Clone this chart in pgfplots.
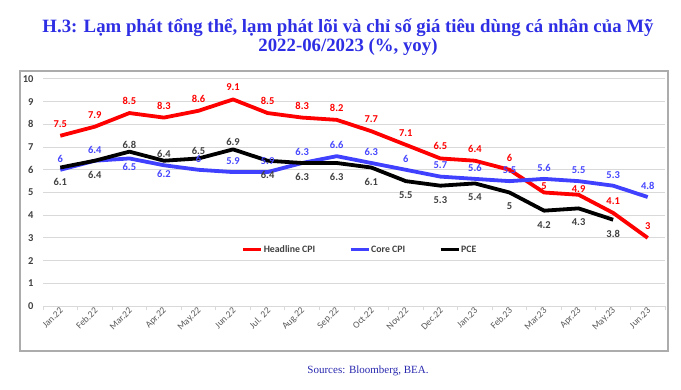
\documentclass[border=0pt]{standalone}
\usepackage{pgfplots}
\pgfplotsset{compat=1.18}
\usepackage{fontspec}
\setmainfont{Liberation Serif}
\newfontfamily\carlito{Carlito}
\definecolor{ttl}{RGB}{46,46,228}
\definecolor{src}{RGB}{40,40,175}
\definecolor{hred}{RGB}{255,0,0}
\definecolor{cblue}{RGB}{64,64,255}
\definecolor{cbluelab}{RGB}{70,70,255}
\definecolor{pgray}{RGB}{64,64,64}
\definecolor{tick}{RGB}{89,89,89}
\definecolor{gridc}{RGB}{217,217,217}
\begin{document}
\begin{tikzpicture}[x=1pt,y=1pt]
\path (0,0) rectangle (681,389);
\node[font=\bfseries\fontsize{18.8}{19.5}\selectfont, text=ttl, align=center] at (348,352)
  {H.3: Lạm phát tổng thể, lạm phát lõi và chỉ số giá tiêu dùng cá nhân của Mỹ\\2022-06/2023 (\%, yoy)};
\draw[gray!65, line width=1.3pt] (20,38) rectangle (668,318);
\node[font=\fontsize{11}{12}\selectfont, text=src] at (368,18) {Sources: Bloomberg, BEA.};
\begin{axis}[
  at={(43pt,83pt)}, anchor=south west,
  width=622pt, height=227pt, scale only axis,
  xmin=-0.5, xmax=17.5, ymin=0, ymax=10,
  axis x line*=bottom, axis y line*=left,
  y axis line style={draw=none},
  x axis line style={gridc, line width=1pt},
  ytick={0,1,...,10},
  xtick={0,1,...,17},
  xticklabels={Jan.22,Feb.22,Mar.22,Apr.22,May.22,Jun.22,Jul. 22,Aug.22,Sep.22,Oct.22,Nov.22,Dec.22,Jan.23,Feb.23,Mar.23,Apr.23,May.23,Jun.23},
  minor xtick={-0.5,0.5,...,17.5},
  major tick length=0pt,
  minor tick length=4pt,
  tick align=outside,
  minor tick style={gridc, line width=1pt},
  ymajorgrids, grid style={gridc, line width=1pt},
  /pgf/number format/assume math mode=true,
  yticklabel style={font=\carlito\bfseries\fontsize{10.5}{12}\selectfont, text=pgray, xshift=-6pt},
  xticklabel style={font=\carlito\fontsize{9.5}{11}\selectfont, text=tick, rotate=45, anchor=east, yshift=-3pt, xshift=2pt},
  legend style={at={(0.509,0.247)}, anchor=center, draw=none, fill=none,
    legend columns=3, font=\carlito\bfseries\fontsize{9.8}{11}\selectfont, text=pgray,
    nodes={inner xsep=1pt, inner ysep=1pt},
    /tikz/every even column/.append style={column sep=33pt}},
  legend image code/.code={\draw[#1, line width=3pt] (0pt,0pt) -- (18pt,0pt);},
  clip=false,
]
% lines
\addplot[hred, line width=3.8pt, line join=round] coordinates {
(0,7.5)(1,7.9)(2,8.5)(3,8.3)(4,8.6)(5,9.1)(6,8.5)(7,8.3)(8,8.2)(9,7.7)(10,7.1)(11,6.5)(12,6.4)(13,6)(14,5)(15,4.9)(16,4.1)(17,3)};
\addlegendentry{Headline CPI}
\addplot[cblue, line width=3.8pt, line join=round] coordinates {
(0,6)(1,6.4)(2,6.5)(3,6.2)(4,6)(5,5.9)(6,5.9)(7,6.3)(8,6.6)(9,6.3)(10,6)(11,5.7)(12,5.6)(13,5.5)(14,5.6)(15,5.5)(16,5.3)(17,4.8)};
\addlegendentry{Core CPI}
\addplot[black, line width=3.8pt, line join=round] coordinates {
(0,6.1)(1,6.4)(2,6.8)(3,6.4)(4,6.5)(5,6.9)(6,6.4)(7,6.3)(8,6.3)(9,6.1)(10,5.5)(11,5.3)(12,5.4)(13,5)(14,4.2)(15,4.3)(16,3.8)};
\addlegendentry{PCE}
% labels
\addplot[draw=none, forget plot, nodes near coords, nodes near coords style={font=\carlito\bfseries\fontsize{10.5}{12}\selectfont, text=hred, anchor=center, yshift=12pt}] coordinates {
(0,7.5)(1,7.9)(2,8.5)(3,8.3)(4,8.6)(5,9.1)(6,8.5)(7,8.3)(8,8.2)(9,7.7)(10,7.1)(11,6.5)(12,6.4)(13,6)(16,4.1)(17,3)};
\addplot[draw=none, forget plot, nodes near coords, nodes near coords style={font=\carlito\bfseries\fontsize{10.5}{12}\selectfont, text=hred, anchor=center, yshift=6pt}] coordinates {
(14,5)(15,4.9)};
\addplot[draw=none, forget plot, nodes near coords, nodes near coords style={font=\carlito\bfseries\fontsize{10.5}{12}\selectfont, text=cbluelab, anchor=center, yshift=11pt}] coordinates {
(0,6)(1,6.4)(4,6)(5,5.9)(6,5.9)(7,6.3)(8,6.6)(9,6.3)(10,6)(11,5.7)(12,5.6)(13,5.5)(14,5.6)(15,5.5)(16,5.3)(17,4.8)};
\addplot[draw=none, forget plot, nodes near coords, nodes near coords style={font=\carlito\bfseries\fontsize{10.5}{12}\selectfont, text=cbluelab, anchor=center, yshift=-9pt}] coordinates {
(2,6.5)(3,6.2)};
\addplot[draw=none, forget plot, nodes near coords, nodes near coords style={font=\carlito\bfseries\fontsize{10.5}{12}\selectfont, text=pgray, anchor=center, yshift=7pt}] coordinates {
(2,6.8)(3,6.4)(4,6.5)(5,6.9)};
\addplot[draw=none, forget plot, nodes near coords, nodes near coords style={font=\carlito\bfseries\fontsize{10.5}{12}\selectfont, text=pgray, anchor=center, yshift=-14pt}] coordinates {
(0,6.1)(1,6.4)(6,6.4)(7,6.3)(8,6.3)(9,6.1)(10,5.5)(11,5.3)(12,5.4)(13,5)(14,4.2)(15,4.3)(16,3.8)};
\end{axis}
\end{tikzpicture}
\end{document}
